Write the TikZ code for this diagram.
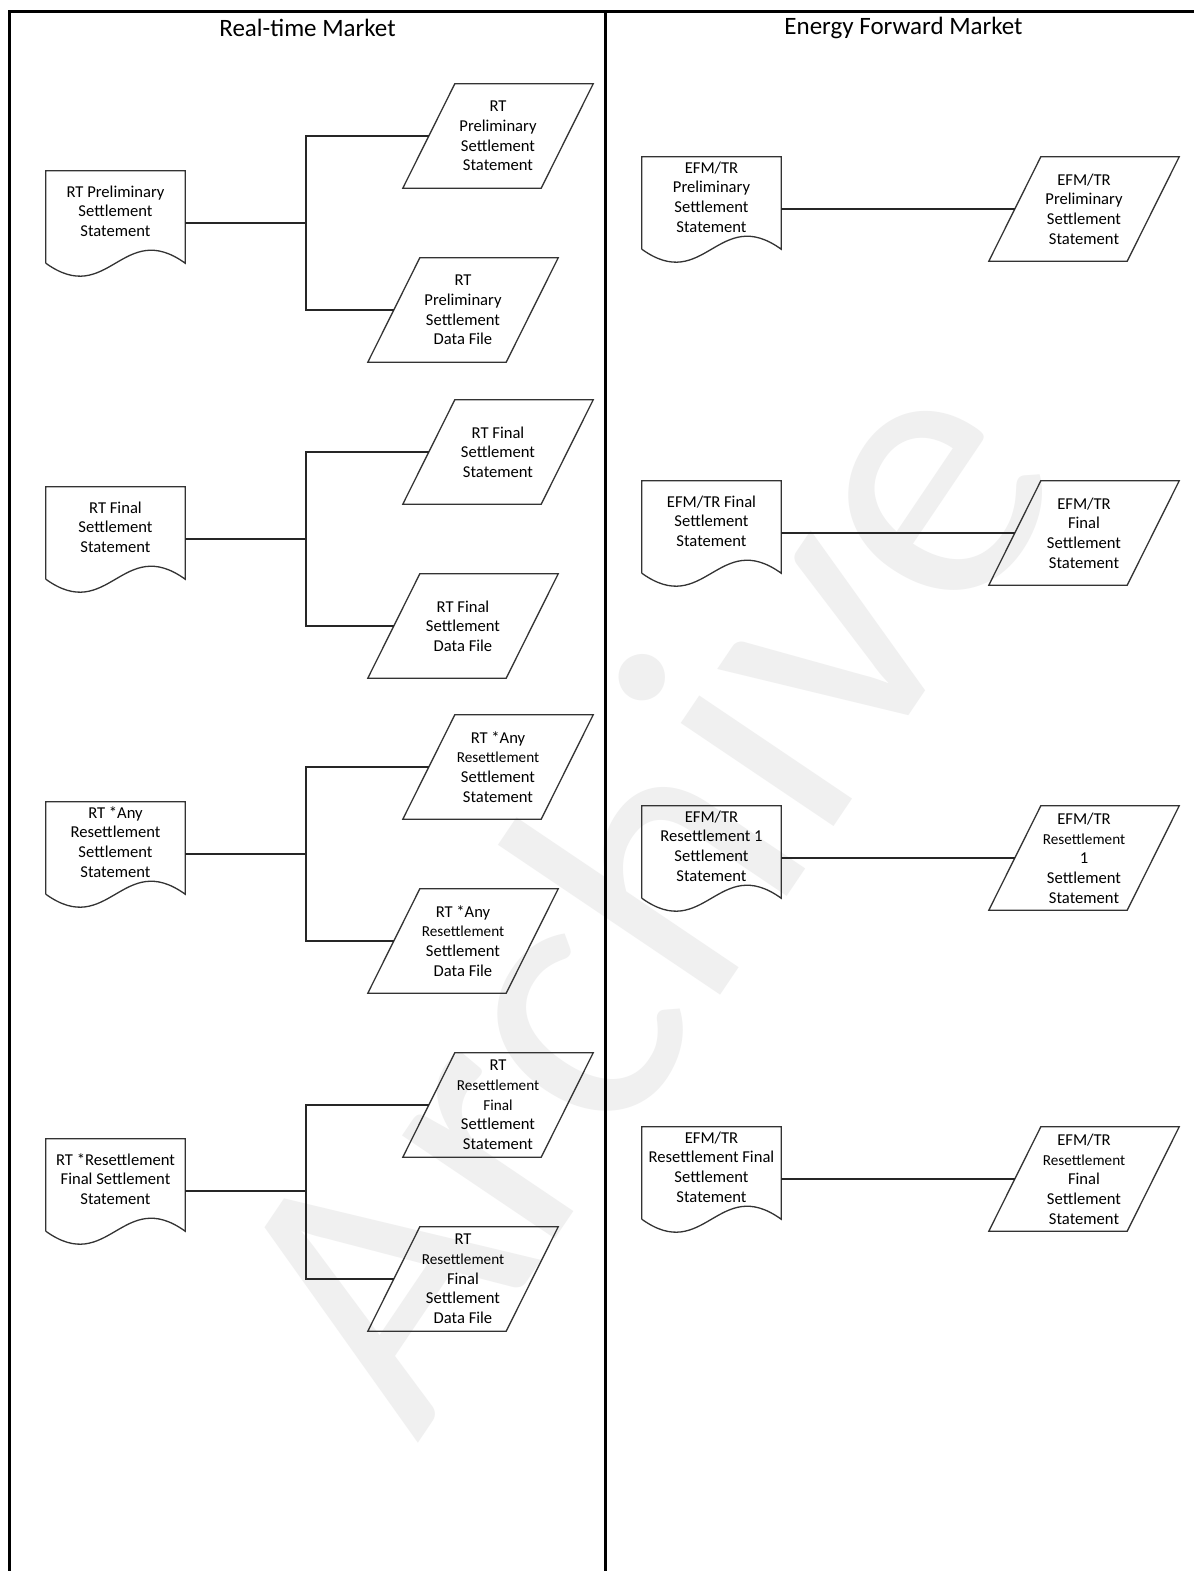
\documentclass[tikz,border=0pt]{standalone}
\usepackage{fontspec}
\setmainfont{Carlito}
\usetikzlibrary{calc}
\newcommand\fs{\fontsize{16.6}{19.7}\selectfont}
\newcommand\sm[1]{{\fontsize{15.2}{19.7}\selectfont #1}}
\tikzset{
  frame/.style={draw=black, line width=3pt},
  shp/.style={draw=black!80, line width=1.3pt},
  conn/.style={draw=black!85, line width=1.8pt},
  docbox/.style={minimum width=139pt, minimum height=104pt, inner sep=0pt},
  doctext/.style={align=center, font=\fs, inner sep=0pt},
  parabox/.style={minimum width=138pt, minimum height=104pt, inner sep=0pt, align=center, font=\fs},
  title/.style={font=\fontsize{25}{28}\selectfont, inner sep=0pt},
  wm/.style={font=\fontsize{386}{386}\selectfont, text=black!6, rotate=56, inner sep=0pt}
}
\newcommand\docoutline[1]{\draw[shp] ([yshift=12pt]#1.south west) -- (#1.north west) -- (#1.north east) -- ([yshift=12pt]#1.south east) .. controls ([xshift=-62.5pt,yshift=57pt]#1.south east) and ([xshift=62.5pt,yshift=-33pt]#1.south west) .. ([yshift=12pt]#1.south west);}
\newcommand\paraoutline[1]{\draw[shp] ([xshift=-26pt]#1.south west) -- ([xshift=26pt]#1.north west) -- ([xshift=26pt]#1.north east) -- ([xshift=-26pt]#1.south east) -- cycle;}
\begin{document}
\begin{tikzpicture}[x=1pt,y=-1pt]
\useasboundingbox (0,0) rectangle (1194,1571);
\fill[white] (0,0) rectangle (1194,1571);
% watermark
\node[wm] (wm) at (634,886) {Archive};
% frame
\draw[frame] (9.5,1571) -- (9.5,11.5) -- (1194,11.5);
\draw[frame] (605.5,11.5) -- (605.5,1571);
\node[title] (t1) at (307.5,28) {Real-time Market};
\node[title] (t2) at (903.5,28) {Energy Forward Market};

% RT documents
\node[docbox] (d1) at (115.5,223) {};
\node[docbox] (d2) at (115.5,539) {};
\node[docbox] (d3) at (115.5,854) {};
\node[docbox] (d4) at (115.5,1191) {};
\node[doctext] (d1t) at ([yshift=12pt]d1.center) {RT Preliminary\\Settlement\\Statement};
\node[doctext] (d2t) at ([yshift=12pt]d2.center) {RT Final\\Settlement\\Statement};
\node[doctext] (d3t) at ([yshift=12pt]d3.center) {RT *Any\\Resettlement\\Settlement\\Statement};
\node[doctext] (d4t) at ([yshift=12pt]d4.center) {RT *Resettlement\\Final Settlement\\Statement};
\docoutline{d1}\docoutline{d2}\docoutline{d3}\docoutline{d4}

% RT outputs
\node[parabox] (a1) at (498,136) {RT\\Preliminary\\Settlement\\Statement};
\node[parabox] (a2) at (463,310) {RT\\Preliminary\\Settlement\\Data File};
\node[parabox] (b1) at (498,452) {RT Final\\Settlement\\Statement};
\node[parabox] (b2) at (463,626) {RT Final\\Settlement\\Data File};
\node[parabox] (c1) at (498,767) {RT *Any\\\sm{Resettlement}\\Settlement\\Statement};
\node[parabox] (c2) at (463,941) {RT *Any\\\sm{Resettlement}\\Settlement\\Data File};
\node[parabox] (e1) at (498,1105) {RT\\\sm{Resettlement}\\\sm{Final}\\Settlement\\Statement};
\node[parabox] (e2) at (463,1279) {RT\\\sm{Resettlement}\\Final\\Settlement\\Data File};
\paraoutline{a1}\paraoutline{a2}\paraoutline{b1}\paraoutline{b2}
\paraoutline{c1}\paraoutline{c2}\paraoutline{e1}\paraoutline{e2}

% RT connectors
\coordinate (j1) at (306,223);
\coordinate (j2) at (306,539);
\coordinate (j3) at (306,854);
\coordinate (j4) at (306,1191);
\draw[conn] (d1.east) -- (j1); \draw[conn] (a1.west) -| (j1) |- (a2.west);
\draw[conn] (d2.east) -- (j2); \draw[conn] (b1.west) -| (j2) |- (b2.west);
\draw[conn] (d3.east) -- (j3); \draw[conn] (c1.west) -| (j3) |- (c2.west);
\draw[conn] (d4.east) -- (j4); \draw[conn] (e1.west) -| (j4) |- (e2.west);

% EFM documents
\node[docbox] (f1) at (711.5,209) {};
\node[docbox] (f2) at (711.5,533) {};
\node[docbox] (f3) at (711.5,858) {};
\node[docbox] (f4) at (711.5,1179) {};
\node[doctext] (f1t) at ([yshift=12pt]f1.center) {EFM/TR\\Preliminary\\Settlement\\Statement};
\node[doctext] (f2t) at ([yshift=12pt]f2.center) {EFM/TR Final\\Settlement\\Statement};
\node[doctext] (f3t) at ([yshift=12pt]f3.center) {EFM/TR\\Resettlement 1\\Settlement\\Statement};
\node[doctext] (f4t) at ([yshift=12pt]f4.center) {EFM/TR\\Resettlement Final\\Settlement\\Statement};
\docoutline{f1}\docoutline{f2}\docoutline{f3}\docoutline{f4}

% EFM outputs
\node[parabox] (g1) at (1084,209) {EFM/TR\\Preliminary\\Settlement\\Statement};
\node[parabox] (g2) at (1084,533) {EFM/TR\\Final\\Settlement\\Statement};
\node[parabox] (g3) at (1084,858) {EFM/TR\\\sm{Resettlement}\\1\\Settlement\\Statement};
\node[parabox] (g4) at (1084,1179) {EFM/TR\\\sm{Resettlement}\\Final\\Settlement\\Statement};
\paraoutline{g1}\paraoutline{g2}\paraoutline{g3}\paraoutline{g4}

% EFM connectors
\draw[conn] (f1.east) -- (g1.west);
\draw[conn] (f2.east) -- (g2.west);
\draw[conn] (f3.east) -- (g3.west);
\draw[conn] (f4.east) -- (g4.west);
\end{tikzpicture}
\end{document}
